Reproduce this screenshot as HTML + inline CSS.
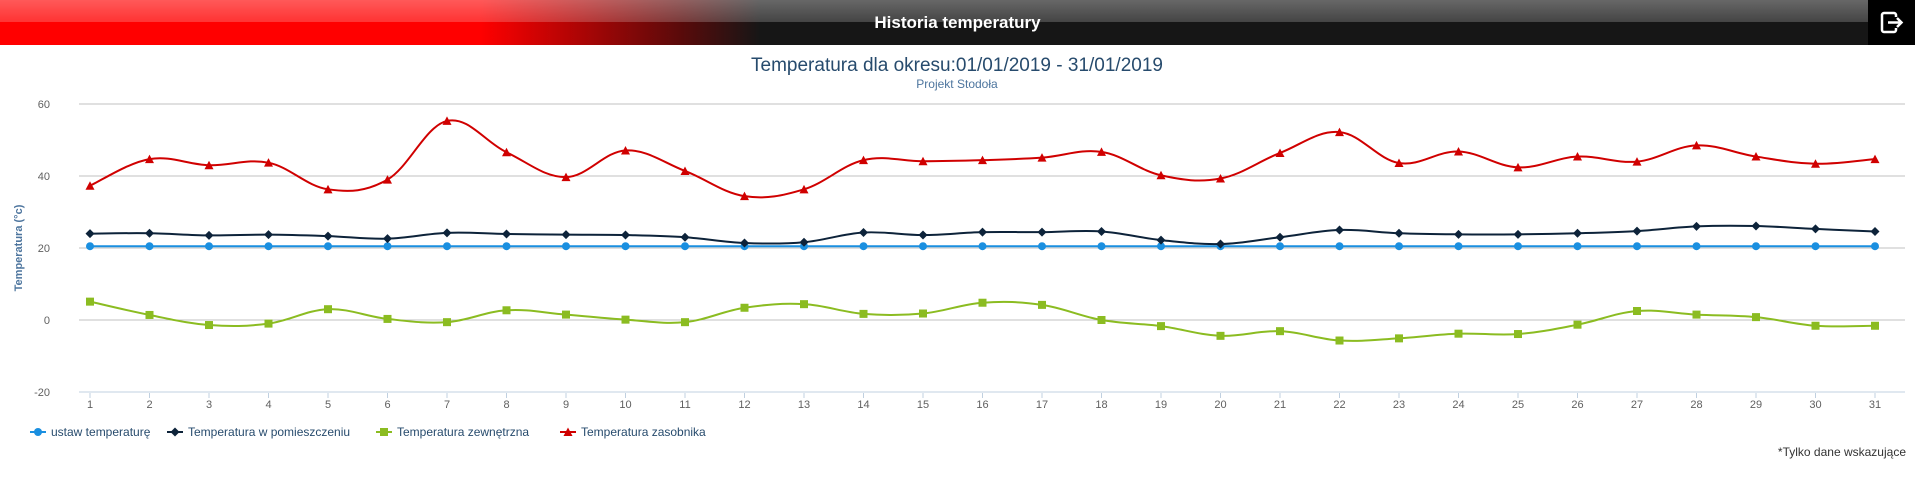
<!DOCTYPE html>
<html><head><meta charset="utf-8"><style>
html,body{margin:0;padding:0;width:1915px;height:479px;overflow:hidden;background:#fff;font-family:"Liberation Sans",sans-serif}
#hdr{position:absolute;left:0;top:0;width:1915px;height:45px;background:linear-gradient(to right,#ff0000 0,#ff0000 480px,#5a0a0a 680px,#161616 760px,#161616 100%)}
#hdr .gl{position:absolute;left:0;top:0;width:100%;height:22px;background:linear-gradient(to bottom,rgba(255,255,255,0.35),rgba(255,255,255,0.2))}
#hdr .t{position:absolute;left:0;width:1915px;top:13px;text-align:center;color:#fff;font-weight:bold;font-size:17px}
#ico{position:absolute;left:1868px;top:0;width:47px;height:45px;background:#000}
</style></head><body>
<div id="hdr"><div class="gl"></div><div class="t">Historia temperatury</div>
<div id="ico"><svg width="47" height="45"><rect x="14" y="13" width="14" height="19" rx="2" fill="none" stroke="#fff" stroke-width="2.5"/><rect x="22" y="17" width="10" height="11" fill="#000"/><path d="M20 22.5h13M29 18l4.5 4.5L29 27" stroke="#fff" stroke-width="2.5" fill="none"/></svg></div></div>
<svg id="c" width="1915" height="479" style="position:absolute;left:0;top:0" xmlns="http://www.w3.org/2000/svg"></svg>
<script>
var s=document.getElementById('c'),h='';
var X=function(i){return 90+(i-1)*59.5},Y=function(v){return 320-v*3.6};
h+='<text x="957" y="71" text-anchor="middle" font-size="19" fill="#274b6d">Temperatura dla okresu:01/01/2019 - 31/01/2019</text>';
h+='<text x="957" y="88" text-anchor="middle" font-size="12" fill="#4d759e">Projekt Stodoła</text>';
[60,40,20,0,-20].forEach(function(v){var y=Y(v);h+='<line x1="79" x2="1905" y1="'+y+'" y2="'+y+'" stroke="'+(v==-20?'#c0d0e0':'#c0c0c0')+'" stroke-width="1"/>';h+='<text x="50" y="'+(y+4)+'" text-anchor="end" font-size="11" fill="#606060">'+v+'</text>';});
for(var i=1;i<=31;i++){h+='<line x1="'+X(i)+'" x2="'+X(i)+'" y1="393" y2="398" stroke="#c0d0e0"/>';h+='<text x="'+X(i)+'" y="408" text-anchor="middle" font-size="11" fill="#606060">'+i+'</text>';}
h+='<text transform="translate(22,248) rotate(-90)" text-anchor="middle" font-size="11" font-weight="bold" fill="#4d759e">Temperatura (°c)</text>';
var red=[37.3,44.7,43,43.7,36.3,39,55.3,46.6,39.7,47.1,41.4,34.4,36.3,44.4,44.1,44.4,45.1,46.7,40.2,39.3,46.4,52.2,43.6,46.8,42.4,45.4,44,48.5,45.4,43.4,44.7];
var dark=[24,24.1,23.5,23.7,23.3,22.6,24.2,23.9,23.7,23.6,23,21.4,21.6,24.3,23.6,24.4,24.4,24.6,22.2,21.1,23,25,24.1,23.8,23.8,24.1,24.7,26,26.1,25.3,24.6];
var green=[5.1,1.4,-1.4,-1,3,0.3,-0.6,2.7,1.5,0.1,-0.6,3.4,4.4,1.7,1.8,4.8,4.2,0,-1.7,-4.4,-3.1,-5.7,-5.1,-3.8,-3.9,-1.3,2.5,1.5,0.8,-1.6,-1.6];
var blue=[];for(i=0;i<31;i++)blue.push(20.5);
function path(d){var p=d.map(function(v,i){return[X(i+1),Y(v)]});var r='M'+p[0][0]+' '+p[0][1];for(var i=0;i<p.length-1;i++){var a=p[i-1]||p[i],b=p[i],c=p[i+1],e=p[i+2]||c;var t=0.18;r+=' C'+(b[0]+(c[0]-a[0])*t)+' '+(b[1]+(c[1]-a[1])*t)+' '+(c[0]-(e[0]-b[0])*t)+' '+(c[1]-(e[1]-b[1])*t)+' '+c[0]+' '+c[1];}return r;}
function mk(t,x,y,col){if(t=='c')return '<circle cx="'+x+'" cy="'+y+'" r="4" fill="'+col+'"/>';if(t=='d')return '<path d="M'+x+' '+(y-4.5)+'L'+(x+4.5)+' '+y+'L'+x+' '+(y+4.5)+'L'+(x-4.5)+' '+y+'Z" fill="'+col+'"/>';if(t=='s')return '<rect x="'+(x-4)+'" y="'+(y-4)+'" width="8" height="8" fill="'+col+'"/>';return '<path d="M'+x+' '+(y-4.5)+'L'+(x+4.5)+' '+(y+4)+'L'+(x-4.5)+' '+(y+4)+'Z" fill="'+col+'"/>';}
[[blue,'#1a8fe0','c'],[dark,'#0d233a','d'],[green,'#8bbc21','s'],[red,'#d00000','t']].forEach(function(s){h+='<path d="'+path(s[0])+'" fill="none" stroke="'+s[1]+'" stroke-width="2"/>';s[0].forEach(function(v,i){h+=mk(s[2],X(i+1),Y(v),s[1]);});});
var lg=[['ustaw temperaturę','#1a8fe0','c',30],['Temperatura w pomieszczeniu','#0d233a','d',167],['Temperatura zewnętrzna','#8bbc21','s',376],['Temperatura zasobnika','#d00000','t',560]];
lg.forEach(function(l){h+='<line x1="'+l[3]+'" x2="'+(l[3]+16)+'" y1="432" y2="432" stroke="'+l[1]+'" stroke-width="2"/>'+mk(l[2],l[3]+8,432,l[1]);h+='<text x="'+(l[3]+21)+'" y="436" font-size="12" fill="#274b6d">'+l[0]+'</text>';});
h+='<text x="1906" y="456" text-anchor="end" font-size="12" fill="#333">*Tylko dane wskazujące</text>';
s.innerHTML=h;
</script>
</body></html>
